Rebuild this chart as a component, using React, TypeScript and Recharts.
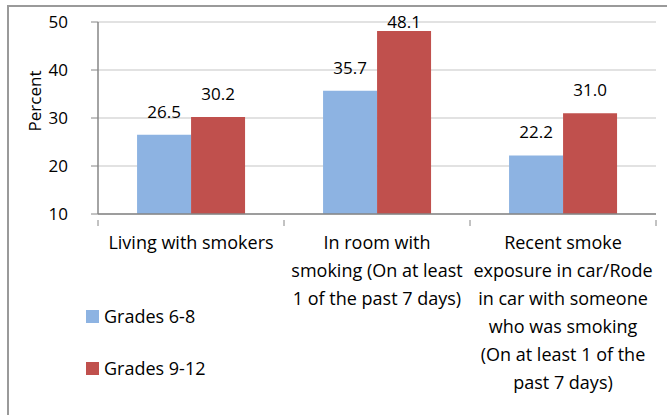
import React from 'react'
import { BarChart, Bar, XAxis, YAxis, CartesianGrid, LabelList } from 'recharts'

const categories = [
  'Living with smokers',
  'In room with smoking (On at least 1 of the past 7 days)',
  'Recent smoke exposure in car/Rode in car with someone who was smoking (On at least 1 of the past 7 days)',
]
const categoryLines = [
  ['Living with smokers'],
  ['In room with', 'smoking (On at least', '1 of the past 7 days)'],
  ['Recent smoke', 'exposure in car/Rode', 'in car with someone', 'who was smoking', '(On at least 1 of the', 'past 7 days)'],
]
const grades68 = [26.5, 35.7, 22.2]
const grades912 = [30.2, 48.1, 31.0]
const yTicks = [10, 20, 30, 40, 50]
const seriesNames = ['Grades 6-8', 'Grades 9-12']

const BLUE = '#8DB3E2'
const RED = '#C0504D'
const AXIS = '#868686'
const FONT = '"Open Sans", Lato, sans-serif'
const FS = 17
const FS_TEXT = 18

const data = categories.map((c, i) => ({
  name: c,
  g68: grades68[i],
  g912: grades912[i],
}))

function CategoryTick(props: any) {
  const { x, y, payload, index } = props
  const half = payload?.offset ?? 93
  const lines = categoryLines[index] ?? [payload.value]
  return (
    <g>
      <line x1={x - half} x2={x - half} y1={y - 2} y2={y + 4} stroke={AXIS} />
      {index === categories.length - 1 && (
        <line x1={x + half} x2={x + half} y1={y - 2} y2={y + 4} stroke={AXIS} />
      )}
      <text x={x} y={y + 27} textAnchor="middle" fontFamily={FONT} fontSize={FS_TEXT} fill="#000">
        {lines.map((l, i) => (
          <tspan key={i} x={x} dy={i === 0 ? 0 : 28}>
            {l}
          </tspan>
        ))}
      </text>
    </g>
  )
}

// value label above the bar, kept below the chart's top edge like Excel does
function ValueLabel(props: any) {
  const { x, y, width, value } = props
  const baseline = Math.max(y - 17, 28)
  return (
    <text x={x + width / 2} y={baseline} textAnchor="middle" fontFamily={FONT} fontSize={FS} fill="#000">
      {Number(value).toFixed(1)}
    </text>
  )
}

function LegendBox() {
  const colors = [BLUE, RED]
  return (
    <div style={{ position: 'absolute', left: 86, top: 305, fontFamily: FONT, fontSize: FS_TEXT, color: '#000' }}>
      {seriesNames.map((n, i) => (
        <div key={n} style={{ display: 'flex', alignItems: 'center', height: 22, marginBottom: i === 0 ? 30 : 0 }}>
          <span style={{ display: 'inline-block', width: 13, height: 13, background: colors[i], marginRight: 5 }} />
          <span>{n}</span>
        </div>
      ))}
    </div>
  )
}

export default function App() {
  return (
    <div style={{ position: 'absolute', left: 0, top: 0, width: 667, height: 415, background: '#fff', overflow: 'hidden' }}>
      <div
        style={{
          position: 'absolute',
          left: 7,
          top: 5,
          width: 700,
          height: 420,
          borderTop: '2px solid #9a9a9a',
          borderLeft: '2px solid #9a9a9a',
        }}
      />
      <div style={{ position: 'absolute', left: 0, top: 0 }}>
        <BarChart
          width={667}
          height={415}
          data={data}
          margin={{ top: 22, right: 11, bottom: 0, left: 38 }}
          barCategoryGap="21%"
          barGap={0}
        >
          <CartesianGrid vertical={false} stroke="#D9D9D9" strokeWidth={1.5} />
          <XAxis
            dataKey="name"
            height={201}
            interval={0}
            axisLine={{ stroke: AXIS, strokeWidth: 1.5 }}
            tickLine={false}
            tick={<CategoryTick />}
          />
          <YAxis
            width={60}
            domain={[10, 50]}
            ticks={yTicks}
            interval={0}
            axisLine={{ stroke: AXIS, strokeWidth: 1.5 }}
            tickLine={{ stroke: AXIS }}
            tickSize={7}
            tickMargin={23}
            tick={{ fontFamily: FONT, fontSize: FS, fill: '#000' }}
            label={{
              content: () => (
                <text
                  x={41}
                  y={101}
                  transform="rotate(-90 41 101)"
                  textAnchor="middle"
                  fontFamily={FONT}
                  fontSize={FS}
                  fill="#000"
                >
                  Percent
                </text>
              ),
            }}
          />
          <Bar dataKey="g68" name={seriesNames[0]} fill={BLUE} isAnimationActive={false}>
            <LabelList dataKey="g68" content={<ValueLabel />} />
          </Bar>
          <Bar dataKey="g912" name={seriesNames[1]} fill={RED} isAnimationActive={false}>
            <LabelList dataKey="g912" content={<ValueLabel />} />
          </Bar>
        </BarChart>
      </div>
      <LegendBox />
    </div>
  )
}
